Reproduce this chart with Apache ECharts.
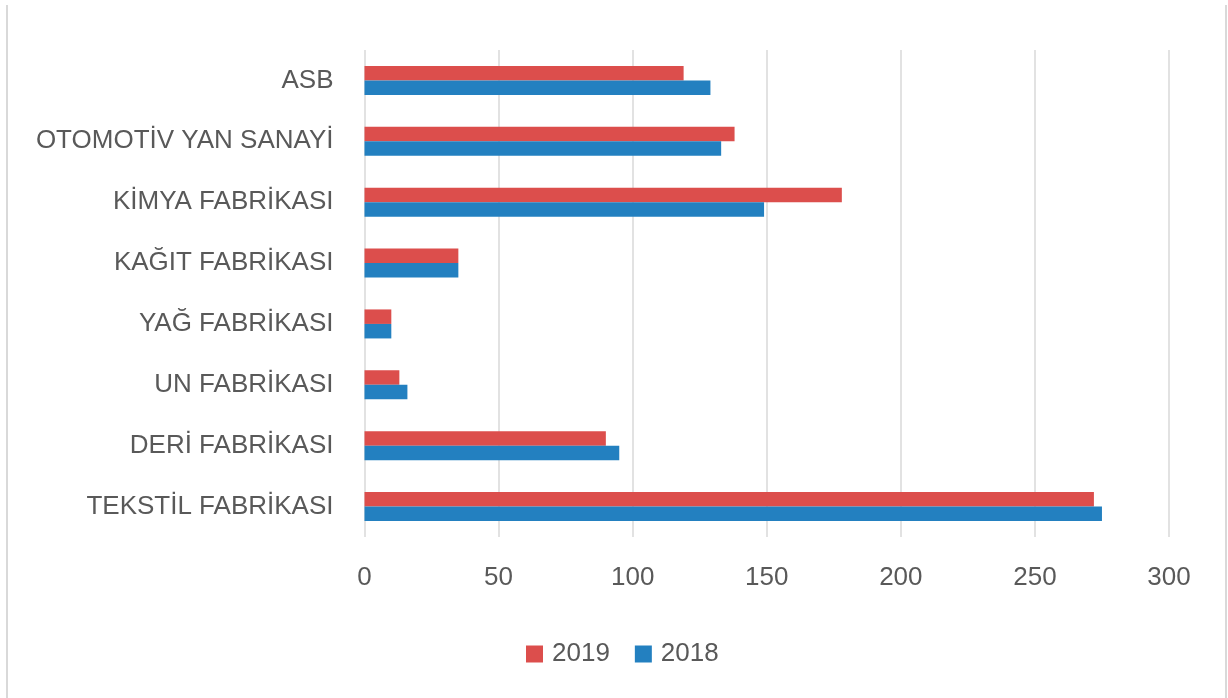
<!DOCTYPE html>
<html>
<head>
<meta charset="utf-8">
<script src="https://cdn.jsdelivr.net/npm/echarts@6/dist/echarts.min.js"></script>
<style>
html,body{margin:0;padding:0;background:#fff;}
#chart{width:1228px;height:698px;}
</style>
</head>
<body>
<div id="chart"></div>
<script>
const categories = ["ASB", "OTOMOTİV YAN SANAYİ", "KİMYA FABRİKASI", "KAĞIT FABRİKASI", "YAĞ FABRİKASI", "UN FABRİKASI", "DERİ FABRİKASI", "TEKSTİL FABRİKASI"];
const values2019 = [119, 138, 178, 35, 10, 13, 90, 272];
const values2018 = [129, 133, 149, 35, 10, 16, 95, 275];
const seriesNames = ["2019", "2018"];

const chart = echarts.init(document.getElementById('chart'));
const font = "'Liberation Sans', Arial, sans-serif";
chart.setOption({
  animation: false,
  backgroundColor: '#fff',
  textStyle: { fontFamily: font },
  grid: { left: 364.5, right: 59, top: 50, bottom: 161, containLabel: false },
  xAxis: {
    type: 'value', min: 0, max: 300, interval: 50,
    axisLine: { show: false },
    axisTick: { show: false },
    splitLine: { show: true, lineStyle: { color: '#d9d9d9', width: 1.5 } },
    axisLabel: { color: '#595959', fontSize: 26, fontFamily: font, margin: 28 }
  },
  yAxis: {
    type: 'category', data: categories, inverse: true,
    axisLine: { show: false },
    axisTick: { show: false },
    axisLabel: { color: '#595959', fontSize: 26, fontFamily: font, margin: 31 }
  },
  legend: {
    data: seriesNames,
    left: 521, top: 636,
    itemWidth: 17, itemHeight: 17, itemGap: 25,
    icon: 'rect',
    textStyle: { color: '#595959', fontSize: 26, fontFamily: font, padding: [0,0,0,4] }
  },
  series: [
    { name: seriesNames[0], type: 'bar', data: values2019, barWidth: 14.5, barGap: '0%', itemStyle: { color: '#dc4e4c' } },
    { name: seriesNames[1], type: 'bar', data: values2018, barWidth: 14.5, barGap: '0%', itemStyle: { color: '#2380c0' } }
  ],
  graphic: [
    { type: 'line', shape: { x1: 7, y1: 5, x2: 7, y2: 698 }, style: { stroke: '#d9d9d9', lineWidth: 2 }, silent: true },
    { type: 'line', shape: { x1: 1226, y1: 5, x2: 1226, y2: 698 }, style: { stroke: '#d9d9d9', lineWidth: 2 }, silent: true }
  ]
});
</script>
</body>
</html>
